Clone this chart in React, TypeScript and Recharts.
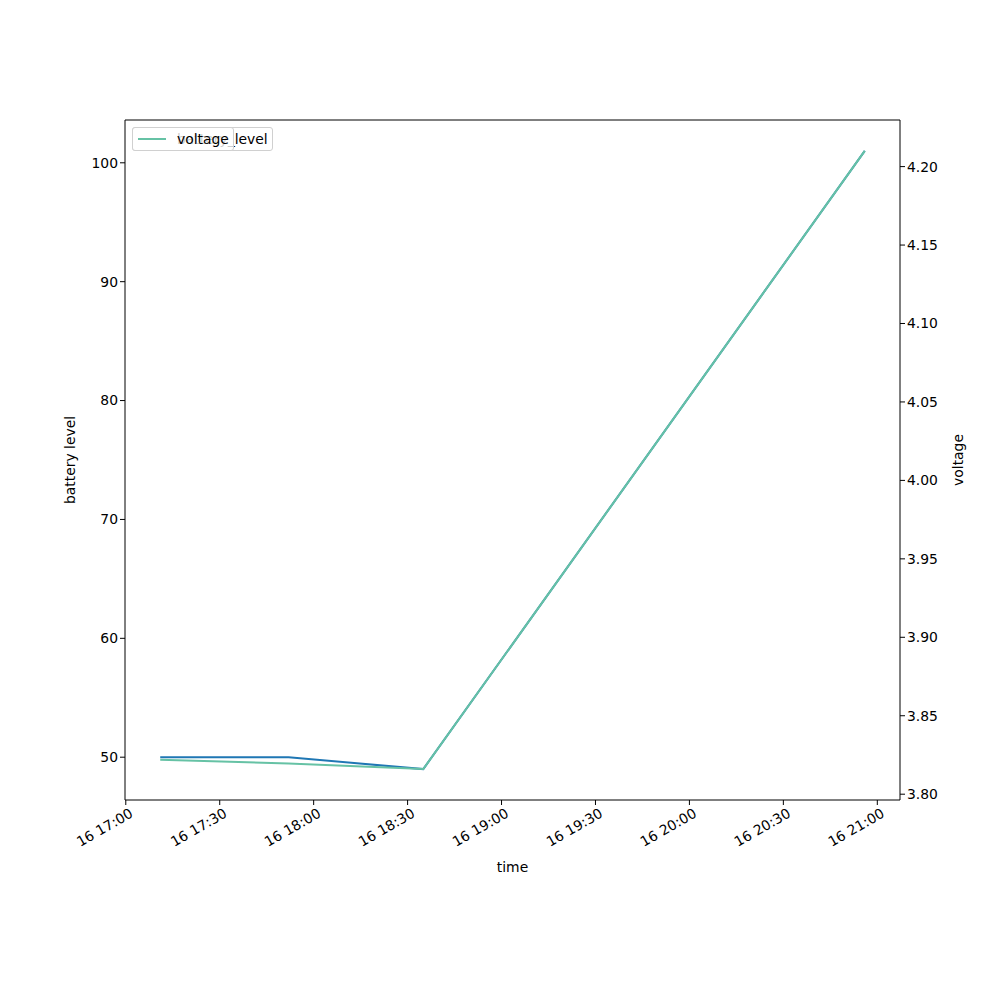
import React from "react";
import { LineChart, Line, XAxis, YAxis, ReferenceLine, Label } from "recharts";

// minutes after 16 17:00
const times = [11, 52, 95, 236];
const batteryLevel = [50, 50, 49, 101];
const voltage = [3.822, 3.8195, 3.816, 4.21];

const timeTicks = [0, 30, 60, 90, 120, 150, 180, 210, 240];
const batteryTicks = [50, 60, 70, 80, 90, 100];
const voltageTicks = [3.8, 3.85, 3.9, 3.95, 4.0, 4.05, 4.1, 4.15, 4.2];

const data = times.map((t, i) => ({ t, battery_level: batteryLevel[i], voltage: voltage[i] }));

const FONT = "DejaVu Sans, sans-serif";
const BLUE = "#1f77b4";
const TEAL = "#66c2a5";

const fmtTime = (m: number) => {
  const h = 17 + Math.floor(m / 60);
  const mm = m % 60;
  return `16 ${h}:${mm.toString().padStart(2, "0")}`;
};

const TimeTick = (props: any) => {
  const { x, y, payload } = props;
  return (
    <g transform={`translate(${x + 3},${y})`}>
      <text
        x={0}
        y={0}
        dy="0.75em"
        textAnchor="end"
        transform="rotate(-30)"
        fill="#000"
        fontSize={13.9}
        fontFamily={FONT}
      >
        {fmtTime(payload.value)}
      </text>
    </g>
  );
};

const legendBox: React.CSSProperties = {
  position: "absolute",
  top: 127,
  left: 132,
  height: 24,
  border: "1px solid #d0d0d0",
  borderRadius: 3,
  background: "rgba(255,255,255,0.8)",
  fontFamily: FONT,
  fontSize: 13.9,
  display: "flex",
  alignItems: "center",
  boxSizing: "border-box",
};

const LegendItem = ({ color, label, width }: { color: string; label: string; width: number }) => (
  <div style={{ ...legendBox, width }}>
    <span style={{ display: "inline-block", width: 28, height: 2, background: color, marginLeft: 5, marginRight: 11 }} />
    <span>{label}</span>
  </div>
);

export default function App() {
  return (
    <div style={{ position: "absolute", left: 0, top: 0, width: 1000, height: 1000, background: "#fff" }}>
      <LineChart
        width={1000}
        height={1000}
        data={data}
        margin={{ top: 120, left: 65, right: 40, bottom: 120 }}
      >
        <XAxis
          dataKey="t"
          type="number"
          domain={[-0.25, 247.25]}
          ticks={timeTicks}
          tick={<TimeTick />}
          height={80}
          stroke="#000"
          tickSize={5}
          interval={0}
        >
          <Label value="time" position="insideBottom" offset={8} fill="#000" fontSize={13.9} fontFamily={FONT} />
        </XAxis>
        <YAxis
          yAxisId="left"
          type="number"
          domain={[46.4, 103.6]}
          ticks={batteryTicks}
          width={60}
          stroke="#000"
          tickSize={5}
          tick={{ fill: "#000", fontSize: 13.9, fontFamily: FONT }}
        >
          <Label value="battery level" angle={-90} position="insideLeft" offset={5} fill="#000" fontSize={13.9} fontFamily={FONT} style={{ textAnchor: "middle" }} />
        </YAxis>
        <YAxis
          yAxisId="right"
          orientation="right"
          type="number"
          domain={[3.7963, 4.2297]}
          ticks={voltageTicks}
          width={60}
          stroke="#000"
          tickSize={5}
          tickFormatter={(v: number) => v.toFixed(2)}
          tick={{ fill: "#000", fontSize: 13.9, fontFamily: FONT }}
        >
          <Label value="voltage" angle={-90} position="insideRight" offset={2} fill="#000" fontSize={13.9} fontFamily={FONT} style={{ textAnchor: "middle" }} />
        </YAxis>
        <ReferenceLine yAxisId="left" y={103.6} stroke="#000" strokeWidth={1} />
        <Line
          yAxisId="left"
          dataKey="battery_level"
          stroke={BLUE}
          strokeWidth={2}
          dot={false}
          isAnimationActive={false}
        />
        <Line
          yAxisId="right"
          dataKey="voltage"
          stroke={TEAL}
          strokeWidth={2}
          dot={false}
          isAnimationActive={false}
        />
      </LineChart>
      <LegendItem color={BLUE} label="battery_level" width={141} />
      <LegendItem color={TEAL} label="voltage" width={102} />
    </div>
  );
}
